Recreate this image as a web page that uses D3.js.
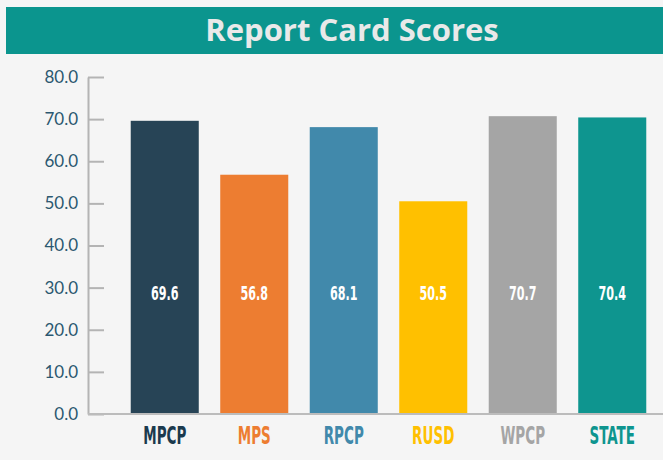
<!DOCTYPE html>
<html>
<head>
<meta charset="utf-8">
<script src="https://cdn.jsdelivr.net/npm/d3@7"></script>
<style>
    html, body { margin: 0; padding: 0; background: #f5f5f5; }
    .axis path, .axis line { stroke: #b4b4b4; stroke-width: 2; }
    .axis text { fill: #2b5870; font-family: Lato, "Open Sans", sans-serif; font-size: 17px; }
</style>
</head>
<body>
<div id="svg_container"></div>
<script>
// data
var schools = ["MPCP", "MPS", "RPCP", "RUSD", "WPCP", "STATE"];
var scores = [69.6, 56.8, 68.1, 50.5, 70.7, 70.4];
var barColors = ["#274456", "#ed7d31", "#4189ab", "#ffc000", "#a5a5a5", "#0e958f"];
var labelColors = ["#1b3a4e", "#ed7d31", "#4189ab", "#ffc000", "#a5a5a5", "#0e958f"];
var yTicks = [0, 10, 20, 30, 40, 50, 60, 70, 80];

var chartW = 663, chartH = 460;
var plotLeft = 88, plotTop = 77, plotBottom = 414;

var svg = d3.select("#svg_container")
        .append("svg")
        .attr("width", chartW)
        .attr("height", chartH);

svg.append("rect")
        .attr("width", chartW)
        .attr("height", chartH)
        .attr("fill", "#f5f5f5");

// title banner
svg.append("rect")
        .attr("x", 6)
        .attr("y", 7)
        .attr("width", chartW - 6)
        .attr("height", 47)
        .attr("fill", "#0b958e");
svg.append("text")
        .attr("x", 352)
        .attr("y", 41)
        .attr("text-anchor", "middle")
        .attr("fill", "#e9e9e9")
        .style("font-family", "'Open Sans', sans-serif")
        .style("font-weight", 700)
        .style("font-size", "31px")
        .text("Report Card Scores");

var x = d3.scaleBand()
        .domain(schools)
        .range([120, 657])
        .paddingInner(0.24)
        .paddingOuter(0.12);

var y = d3.scaleLinear()
        .domain([0, 80])
        .range([plotBottom, plotTop]);

// bars
svg.selectAll(".bar")
        .data(schools)
        .enter().append("rect")
        .attr("class", "bar")
        .attr("x", d => x(d))
        .attr("y", (d, i) => y(scores[i]))
        .attr("width", x.bandwidth())
        .attr("height", (d, i) => plotBottom - y(scores[i]))
        .attr("fill", (d, i) => barColors[i]);

// value labels
svg.selectAll(".val")
        .data(schools)
        .enter().append("text")
        .attr("class", "val")
        .attr("transform", d => "translate(" + (x(d) + x.bandwidth() / 2) + "," + 300 + ")scale(0.62,1)")
        .attr("text-anchor", "middle")
        .attr("fill", "#ffffff")
        .style("font-family", "'DejaVu Sans Condensed', 'DejaVu Sans', sans-serif")
        .style("font-weight", 700)
        .style("font-size", "20px")
        .text((d, i) => scores[i].toFixed(1));

// y axis
svg.append("g")
        .attr("class", "axis")
        .attr("transform", "translate(" + plotLeft + ",0)")
        .call(d3.axisLeft(y)
                .tickValues(yTicks)
                .tickSizeInner(-16)
                .tickSizeOuter(0)
                .tickPadding(10)
                .tickFormat(d3.format(".1f")));

// baseline
svg.append("line")
        .attr("x1", plotLeft)
        .attr("x2", chartW)
        .attr("y1", plotBottom)
        .attr("y2", plotBottom)
        .attr("stroke", "#bcbcbc")
        .attr("stroke-width", 2);

// category labels
svg.selectAll(".cat")
        .data(schools)
        .enter().append("text")
        .attr("class", "cat")
        .attr("transform", d => "translate(" + (x(d) + x.bandwidth() / 2) + "," + 444 + ")scale(0.6,1)")
        .attr("text-anchor", "middle")
        .attr("fill", (d, i) => labelColors[i])
        .style("font-family", "'DejaVu Sans Condensed', 'DejaVu Sans', sans-serif")
        .style("font-weight", 700)
        .style("font-size", "25px")
        .text(d => d);
</script>
</body>
</html>
